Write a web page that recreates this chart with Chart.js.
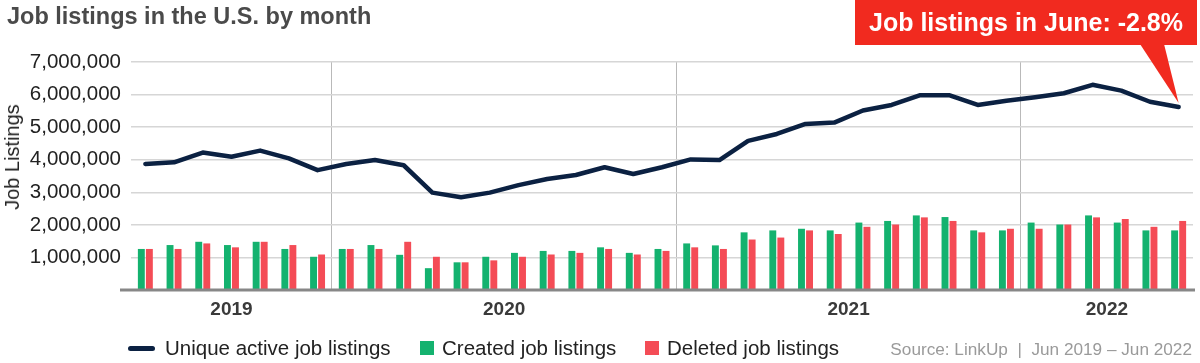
<!DOCTYPE html>
<html>
<head>
<meta charset="utf-8">
<script src="https://cdn.jsdelivr.net/npm/chart.js@4.4.1/dist/chart.umd.min.js"></script>
<style>
    body { margin: 0; background: #fff; font-family: "Liberation Sans", Arial, sans-serif; }
    #wrap { position: relative; width: 1200px; height: 363px; overflow: hidden; }
    #chart { position: absolute; left: 0; top: 0; }
    .title { position: absolute; left: 7px; top: 5px; font-size: 23.5px; font-weight: bold; color: #4a4a4a; line-height: 1; white-space: nowrap; }
    .ytitle { position: absolute; left: 12px; top: 157px; transform: translate(-50%, -50%) rotate(-90deg); font-size: 20px; color: #222; white-space: nowrap; line-height: 1; }
    .legend { font-size: 20.5px; color: #222; line-height: 20px; white-space: nowrap; }
    .legend .item { position: absolute; top: 338px; display: flex; align-items: center; }
    .legend .line { width: 27px; height: 5px; border-radius: 3px; background: #0b2142; margin-right: 10px; }
    .legend .sq { width: 14px; height: 14px; margin-right: 8px; }
    .source { position: absolute; right: 8px; top: 339px; font-size: 17.2px; color: #9a9a9a; line-height: 20px; white-space: nowrap; }
</style>
</head>
<body>
<div id="wrap">
    <canvas id="chart" width="1200" height="363"></canvas>
    <div class="title">Job listings in the U.S. by month</div>
    <div class="ytitle">Job Listings</div>
    <div class="legend">
        <div class="item" style="left:128px"><span class="line"></span>Unique active job listings</div>
        <div class="item" style="left:420px"><span class="sq" style="background:#14b26f"></span>Created job listings</div>
        <div class="item" style="left:645px"><span class="sq" style="background:#f44c56"></span>Deleted job listings</div>
    </div>
    <div class="source">Source: LinkUp &nbsp;|&nbsp; Jun 2019 – Jun 2022</div>
</div>
<script>
// Datos
var months = [
    'Jun 2019', 'Jul 2019', 'Aug 2019', 'Sep 2019', 'Oct 2019', 'Nov 2019', 'Dec 2019',
    'Jan 2020', 'Feb 2020', 'Mar 2020', 'Apr 2020', 'May 2020', 'Jun 2020',
    'Jul 2020', 'Aug 2020', 'Sep 2020', 'Oct 2020', 'Nov 2020', 'Dec 2020',
    'Jan 2021', 'Feb 2021', 'Mar 2021', 'Apr 2021', 'May 2021', 'Jun 2021',
    'Jul 2021', 'Aug 2021', 'Sep 2021', 'Oct 2021', 'Nov 2021', 'Dec 2021',
    'Jan 2022', 'Feb 2022', 'Mar 2022', 'Apr 2022', 'May 2022', 'Jun 2022'
];
var years = ['2019', '2020', '2021', '2022'];
var monthsPerYear = [7, 12, 12, 6];

var activeListings = [
    3870000, 3920000, 4220000, 4090000, 4280000, 4040000, 3680000,
    3870000, 3990000, 3830000, 2990000, 2850000, 2990000, 3220000, 3410000, 3530000, 3770000, 3560000, 3770000,
    4010000, 3990000, 4580000, 4790000, 5100000, 5140000, 5510000, 5680000, 5980000, 5980000, 5680000, 5810000,
    5920000, 6040000, 6300000, 6120000, 5780000, 5620000
];
var createdListings = [
    1260000, 1380000, 1480000, 1380000, 1480000, 1260000, 1020000,
    1260000, 1380000, 1080000, 670000, 850000, 1020000, 1140000, 1200000, 1200000, 1310000, 1140000, 1260000,
    1430000, 1370000, 1770000, 1830000, 1880000, 1830000, 2070000, 2120000, 2290000, 2240000, 1830000, 1830000,
    2070000, 2010000, 2290000, 2070000, 1830000, 1830000
];
var deletedListings = [
    1260000, 1260000, 1430000, 1310000, 1480000, 1380000, 1090000,
    1260000, 1260000, 1480000, 1020000, 850000, 910000, 1020000, 1090000, 1140000, 1260000, 1090000, 1200000,
    1310000, 1260000, 1550000, 1610000, 1830000, 1720000, 1940000, 2010000, 2230000, 2120000, 1770000, 1880000,
    1880000, 2010000, 2230000, 2180000, 1940000, 2120000
];
var yTicks = [0, 1000000, 2000000, 3000000, 4000000, 5000000, 6000000, 7000000];
var calloutText = 'Job listings in June: -2.8%';

// Posiciones de los años (centro) y separadores (limites) en unidades de categoria
var yearCenters = [];
var yearBounds = [];
var start = -0.5;
monthsPerYear.forEach(function(n, i) {
    yearCenters.push(start + n / 2);
    if (i > 0) yearBounds.push(start);
    start += n;
});

// Globo rojo con la variacion de junio + linea base un poco mas larga
var calloutPlugin = {
    id: 'callout',
    afterDraw: function(chart) {
        var ctx = chart.ctx;
        var area = chart.chartArea;
        ctx.save();
        ctx.strokeStyle = '#878787';
        ctx.lineWidth = 3;
        ctx.beginPath();
        ctx.moveTo(area.left - 11, area.bottom);
        ctx.lineTo(area.right + 2, area.bottom);
        ctx.stroke();

        var meta = chart.getDatasetMeta(0);
        var pt = meta.data[meta.data.length - 1];
        var boxL = 855, boxR = 1197, boxB = 45;
        ctx.fillStyle = '#f12a1f';
        ctx.fillRect(boxL, 0, boxR - boxL, boxB);
        ctx.beginPath();
        ctx.moveTo(1140, boxB - 1);
        ctx.lineTo(1164, boxB - 1);
        ctx.lineTo(pt.x, pt.y - 4);
        ctx.closePath();
        ctx.fill();
        ctx.fillStyle = '#fff';
        ctx.font = 'bold 25px "Liberation Sans", Arial, sans-serif';
        ctx.textAlign = 'center';
        ctx.textBaseline = 'middle';
        ctx.fillText(calloutText, (boxL + boxR) / 2, 24);
        ctx.restore();
    }
};

new Chart(document.getElementById('chart'), {
    type: 'bar',
    data: {
        labels: months,
        datasets: [{
            type: 'line',
            label: 'Unique active job listings',
            data: activeListings,
            borderColor: '#0b2142',
            borderWidth: 4.5,
            pointRadius: 0,
            tension: 0,
            borderJoinStyle: 'round',
            borderCapStyle: 'round',
            order: 0
        }, {
            label: 'Created job listings',
            data: createdListings,
            backgroundColor: '#14b26f',
            categoryPercentage: 0.56,
            barPercentage: 0.86,
            order: 1
        }, {
            label: 'Deleted job listings',
            data: deletedListings,
            backgroundColor: '#f44c56',
            categoryPercentage: 0.56,
            barPercentage: 0.86,
            order: 1
        }]
    },
    options: {
        responsive: false,
        animation: false,
        layout: { padding: { top: 62, right: 7, bottom: 43, left: 0 } },
        plugins: {
            legend: { display: false },
            tooltip: { enabled: false }
        },
        scales: {
            x: {
                display: false
            },
            years: {
                type: 'linear',
                position: 'bottom',
                min: -0.5,
                max: months.length - 0.5,
                offset: false,
                afterBuildTicks: function(scale) {
                    scale.ticks = yearBounds.concat(yearCenters).map(function(v) { return { value: v }; });
                },
                afterFit: function(scale) { scale.height = 30; },
                border: { display: false },
                grid: {
                    offset: false,
                    drawTicks: false,
                    lineWidth: 1,
                    color: function(c) {
                        return c.tick && yearBounds.indexOf(c.tick.value) >= 0 ? '#b9b9b9' : 'rgba(0,0,0,0)';
                    }
                },
                ticks: {
                    autoSkip: false,
                    maxRotation: 0,
                    padding: 8,
                    color: '#3a3a3a',
                    font: { family: '"Liberation Sans", Arial, sans-serif', size: 19, weight: 'bold' },
                    callback: function(value) {
                        var i = yearCenters.indexOf(value);
                        return i >= 0 ? years[i] : '';
                    }
                }
            },
            y: {
                min: 0,
                max: 7000000,
                afterBuildTicks: function(scale) {
                    scale.ticks = yTicks.map(function(v) { return { value: v }; });
                },
                afterFit: function(scale) { scale.width = 131; },
                border: { display: false },
                grid: { color: '#d6d6d6', lineWidth: 1.5, drawTicks: false },
                ticks: {
                    padding: 10,
                    color: '#222',
                    font: { family: '"Liberation Sans", Arial, sans-serif', size: 20.5 },
                    callback: function(value) {
                        return value === 0 ? '' : value.toLocaleString('en-US');
                    }
                }
            }
        }
    },
    plugins: [calloutPlugin]
});
</script>
</body>
</html>
